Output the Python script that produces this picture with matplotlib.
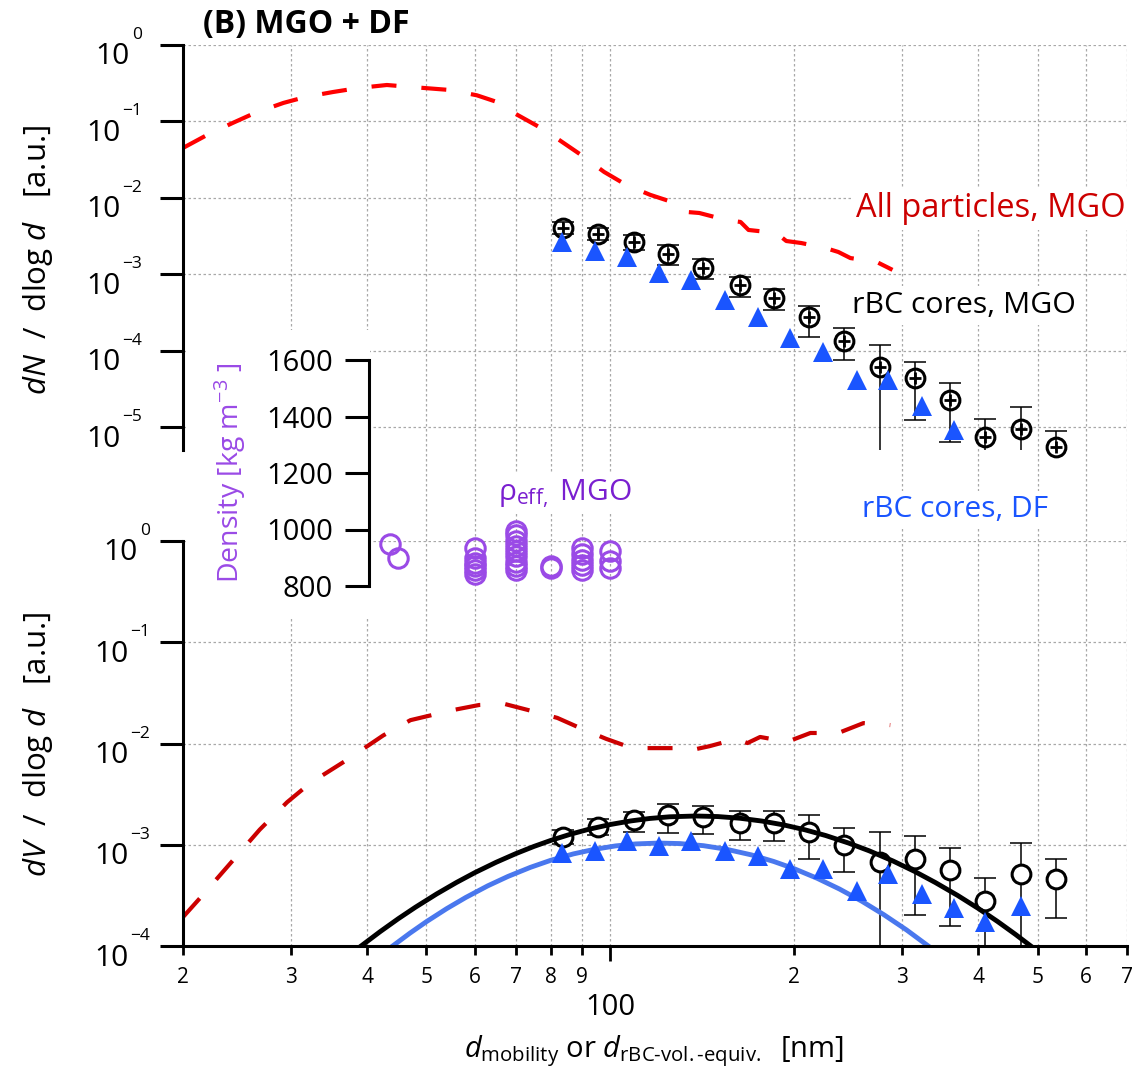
import numpy as np
import matplotlib
matplotlib.use("Agg")
import matplotlib.pyplot as plt
from matplotlib.patches import Rectangle
from matplotlib.transforms import blended_transform_factory, offset_copy

plt.rcParams['font.family'] = ['Open Sans', 'DejaVu Sans']
plt.rcParams['mathtext.fontset'] = 'custom'
plt.rcParams['mathtext.rm'] = 'Open Sans'
plt.rcParams['mathtext.it'] = 'Open Sans:italic'
plt.rcParams['mathtext.bf'] = 'Open Sans:bold'

# ---------------- data ----------------
# all particles, MGO (number and volume size distributions)
d_all_N = [20, 21.9, 24.1, 26.2, 29.2, 31.7, 35.2, 38.7, 43.1, 47.4, 54.7, 60.5,
           66.0, 69.6, 76.5, 82.5, 89.6, 97.7, 106.2, 116.2, 127.6, 133.6, 139.8,
           154.8, 163.3, 168.3, 186.8, 194, 205.2, 224.8, 236, 247, 272.6, 289.4]
dN_all = [0.0451, 0.0667, 0.0955, 0.129, 0.175, 0.209, 0.243, 0.274, 0.300, 0.282,
          0.258, 0.220, 0.1746, 0.129, 0.0847, 0.0573, 0.0365, 0.0219, 0.0148, 0.011,
          8.6e-3, 6.56e-3, 6.37e-3, 5.15e-3, 4.86e-3, 3.82e-3, 3.49e-3, 2.74e-3,
          2.58e-3, 2.22e-3, 1.97e-3, 1.64e-3, 1.46e-3, 1.15e-3]

d_all_V = [20, 21.3, 23.6, 26.7, 29.6, 32.3, 37.1, 42.5, 47.1, 55.3, 61.0, 67.3,
           74.5, 81.9, 90, 98.5, 108.6, 119.4, 132.1, 135.6, 145.2, 160.8, 167.6,
           175.8, 194.8, 212.4, 236, 259.4, 287]
dV_all = [1.93e-4, 2.95e-4, 6.0e-4, 1.41e-3, 2.63e-3, 4.07e-3, 6.9e-3, 0.012, 0.017,
          0.0214, 0.024, 0.0245, 0.0209, 0.0179, 0.0139, 0.0111, 9.0e-3, 9.0e-3,
          9.0e-3, 8.6e-3, 9.4e-3, 0.0111, 0.0101, 0.0116, 0.0104, 0.0127, 0.0127,
          0.0159, 0.0152]

# rBC cores, MGO
d_mgo = [83.8, 95.4, 109.5, 124.2, 142, 162.8, 185, 211.5, 240.8, 275.8, 314.5,
         359, 409.5, 469.5, 535]
dN_mgo = [4.06e-3, 3.38e-3, 2.66e-3, 1.85e-3, 1.22e-3, 7.30e-4, 4.93e-4, 2.78e-4,
          1.35e-4, 6.18e-5, 4.44e-5, 2.29e-5, 7.52e-6, 9.55e-6, 5.56e-6]
dN_mgo_lo = [3.38e-3, 2.82e-3, 2.09e-3, 1.33e-3, 8.73e-4, 5.08e-4, 3.44e-4, 1.52e-4,
             7.62e-5, 0, 1.25e-5, 6.46e-6, 0, 0, 0]
dN_mgo_hi = [4.85e-3, 4.06e-3, 3.28e-3, 2.43e-3, 1.60e-3, 9.27e-4, 6.46e-4, 3.87e-4,
             2.00e-4, 1.20e-4, 7.18e-5, 3.82e-5, 1.29e-5, 1.85e-5, 8.99e-6]
dV_mgo = [1.19e-3, 1.50e-3, 1.75e-3, 1.97e-3, 1.88e-3, 1.64e-3, 1.64e-3, 1.34e-3,
          9.94e-4, 6.76e-4, 7.23e-4, 5.63e-4, 2.78e-4, 5.14e-4, 4.59e-4]
dV_mgo_lo = [1.02e-3, 1.25e-3, 1.34e-3, 1.31e-3, 1.28e-3, 1.11e-3, 1.09e-3, 7.23e-4,
             5.38e-4, 0, 2.02e-4, 1.58e-4, 0, 0, 1.89e-4]
dV_mgo_hi = [1.40e-3, 1.80e-3, 2.10e-3, 2.52e-3, 2.41e-3, 2.16e-3, 2.16e-3, 1.97e-3,
             1.46e-3, 1.34e-3, 1.22e-3, 9.29e-4, 4.70e-4, 1.04e-3, 7.23e-4]

# rBC cores, DF
d_df = [83.5, 94.5, 106.5, 120, 135.5, 154, 174.5, 197, 222.5, 253, 285, 323, 365,
        410, 470]
dN_df = [2.66e-3, 2.03e-3, 1.70e-3, 1.05e-3, 8.5e-4, 4.65e-4, 2.79e-4, 1.48e-4,
         9.8e-5, 4.2e-5, 4.2e-5, 1.9e-5, 9.3e-6]
dV_df = [8.3e-4, 8.7e-4, 1.09e-3, 9.7e-4, 1.09e-3, 8.7e-4, 7.7e-4, 5.75e-4, 5.75e-4,
         3.5e-4, 5.1e-4, 3.27e-4, 2.37e-4, 1.73e-4, 2.48e-4]

# lognormal fits to the rBC volume distributions
d_fit_mgo = [39, 42, 45, 48, 52, 56, 60, 65, 70, 75, 80, 86, 92, 100, 108, 116, 125,
             138, 150, 163, 177, 192, 208, 225, 245, 265, 290, 315, 340, 370, 400,
             430, 460, 490]
dV_fit_mgo = [9.87e-5, 1.383e-4, 1.861e-4, 2.416e-4, 3.27e-4, 4.236e-4, 5.294e-4,
              6.699e-4, 8.157e-4, 9.627e-4, 1.106e-3, 1.269e-3, 1.417e-3, 1.585e-3,
              1.719e-3, 1.818e-3, 1.888e-3, 1.923e-3, 1.898e-3, 1.827e-3, 1.714e-3,
              1.571e-3, 1.406e-3, 1.234e-3, 1.042e-3, 8.72e-4, 6.91e-4, 5.43e-4,
              4.24e-4, 3.155e-4, 2.345e-4, 1.745e-4, 1.301e-4, 9.74e-5]
d_fit_df = [44, 47, 50, 54, 58, 63, 68, 74, 80, 87, 94, 102, 110, 120, 130, 142, 155,
            170, 185, 200, 218, 237, 258, 280, 305, 332]
dV_fit_df = [9.95e-5, 1.338e-4, 1.736e-4, 2.34e-4, 3.013e-4, 3.924e-4, 4.862e-4,
             5.98e-4, 7.04e-4, 8.12e-4, 8.99e-4, 9.74e-4, 1.019e-3, 1.039e-3,
             1.027e-3, 9.79e-4, 9.01e-4, 7.95e-4, 6.84e-4, 5.79e-4, 4.66e-4,
             3.655e-4, 2.763e-4, 2.042e-4, 1.444e-4, 9.89e-5]

# effective density, MGO
d_rho = [43.6, 45,
         60, 60, 60, 60, 60, 60,
         70, 70, 70, 70, 70, 70, 70, 70, 70,
         80, 80,
         90, 90, 90, 90, 90,
         100, 100, 100]
rho_eff = [950, 900,
           933, 900, 883, 871, 857, 843,
           996, 980, 960, 940, 925, 905, 885, 870, 858,
           870, 862,
           936, 915, 893, 875, 857,
           925, 890, 865]

minor_pos = [20, 30, 40, 50, 60, 70, 80, 90, 200, 300, 400, 500, 600, 700]
minor_lab = ['2', '3', '4', '5', '6', '7', '8', '9', '2', '3', '4', '5', '6', '7']

# ---------------- layout ----------------
W, H = 1137, 1071
fig = plt.figure(figsize=(W / 100, H / 100), dpi=100)


def rect(x0, y0, x1, y1):
    return [x0 / W, 1 - y1 / H, (x1 - x0) / W, (y1 - y0) / H]


def fpos(x, y):
    return x / W, 1 - y / H


XL, XR = 183, 1127
ax_grid = fig.add_axes(rect(XL, 45, XR, 946))
ax_bot = fig.add_axes(rect(XL, 541, XR, 946))
ax_top = fig.add_axes(rect(XL, 45, XR, 450))
ax_rho = fig.add_axes(rect(XL, 360, XR, 586))

for ax in (ax_grid, ax_bot, ax_top, ax_rho):
    ax.set_xscale('log')
    ax.set_xlim(20, 700)
    ax.patch.set_visible(False)
    for s in ax.spines.values():
        s.set_visible(False)
    ax.tick_params(which='both', bottom=False, left=False,
                   labelbottom=False, labelleft=False)

gridkw = dict(color='#a8a8a8', lw=0.9, ls=(0, (2, 2)))
ax_grid.set_ylim(0, 1)
for xg in minor_pos[1:] + [100]:
    ax_grid.axvline(xg, zorder=0, **gridkw)

# log panels
ax_top.set_yscale('log')
ax_top.set_ylim(5.08e-6, 1)
ax_bot.set_yscale('log')
ax_bot.set_ylim(1e-4, 1)
top_dec = [0, -1, -2, -3, -4, -5]
bot_dec = [0, -1, -2, -3, -4]

for ax, decs, exp_x in ((ax_top, top_dec, 142), (ax_bot, bot_dec, 150)):
    ax.spines['left'].set_visible(True)
    ax.spines['left'].set_linewidth(2.2)
    ax.set_yticks([10.0 ** k for k in decs])
    ax.yaxis.set_minor_locator(matplotlib.ticker.NullLocator())
    ax.tick_params(axis='y', which='major', left=True, length=16.5, width=2.2,
                   direction='out')
    ax.set_axisbelow(True)
    ax.grid(axis='y', which='major', **gridkw)
    tr = blended_transform_factory(fig.transFigure, ax.transData)
    for k in decs:
        lab = str(k).replace('-', '\u2212')
        e = ax.text(exp_x / W, 10.0 ** k, lab, fontsize=12.5, ha='right',
                    va='center', transform=offset_copy(tr, fig, y=10, units='dots'),
                    clip_on=False)
        ax.annotate('10', xy=(0, 0.5), xycoords=e, xytext=(-2, -22),
                    textcoords='offset pixels', ha='right', va='center',
                    fontsize=21.5, annotation_clip=False)

ax_bot.spines['bottom'].set_visible(True)
ax_bot.spines['bottom'].set_linewidth(2.2)
ax_bot.set_xticks([100], ['100'])
ax_bot.set_xticks(minor_pos, minor_lab, minor=True)
ax_bot.tick_params(axis='x', which='major', bottom=True, labelbottom=True,
                   length=11, width=2, labelsize=21, pad=23)
ax_bot.tick_params(axis='x', which='minor', bottom=True, labelbottom=True,
                   length=6.5, width=2, labelsize=15, pad=8.5)

# white area behind the density axis
ax_top.add_artist(Rectangle(fpos(188, 618), 182 / W, 288 / H,
                            transform=fig.transFigure, fc='white', ec='none',
                            zorder=0.9, clip_on=False))

# ---- top: number distributions ----
ax_top.plot(d_all_N, dN_all, color='#ff0000', lw=3, dashes=(6, 6), zorder=2)
dN_mgo_a = np.array(dN_mgo)
ax_top.errorbar(d_mgo, dN_mgo, yerr=[dN_mgo_a - np.array(dN_mgo_lo),
                                     np.array(dN_mgo_hi) - dN_mgo_a],
                fmt='none', ecolor='black', elinewidth=1.1, capsize=8,
                capthick=1.1, zorder=2.1)
ax_top.plot(d_mgo, dN_mgo, 'o', ms=13.5, mfc='none', mec='black', mew=2.2,
            zorder=2.3, clip_on=False)
ax_top.plot(d_mgo, dN_mgo, '+', ms=9, mec='black', mew=2, zorder=2.3,
            clip_on=False)
ax_top.plot(d_df[:len(dN_df)], dN_df, '^', ms=14.5, color='#1a55ff', mew=0,
            zorder=2.4, clip_on=False)

# ---- bottom: volume distributions ----
ax_bot.plot(d_all_V, dV_all, color='#cc0000', lw=3, dashes=(6, 6), zorder=2)
dV_mgo_a = np.array(dV_mgo)
ax_bot.errorbar(d_mgo, dV_mgo, yerr=[dV_mgo_a - np.array(dV_mgo_lo),
                                     np.array(dV_mgo_hi) - dV_mgo_a],
                fmt='none', ecolor='black', elinewidth=1.1, capsize=8,
                capthick=1.1, zorder=2.0)
ax_bot.plot(d_mgo, dV_mgo, 'o', ms=13.5, mfc='white', mec='none', zorder=2.1,
            clip_on=False)
ax_bot.plot(d_fit_mgo, dV_fit_mgo, color='black', lw=3.5, zorder=2.2)
ax_bot.plot(d_fit_df, dV_fit_df, color='#4a78ee', lw=3.5, zorder=2.2)
ax_bot.plot(d_mgo, dV_mgo, 'o', ms=13.5, mfc='none', mec='black', mew=2.2,
            zorder=2.3, clip_on=False)
ax_bot.plot(d_df, dV_df, '^', ms=14.5, color='#1a55ff', mew=0, zorder=2.4,
            clip_on=False)

# ---- inset: effective density ----
ax_rho.set_ylim(800, 1600)
ax_rho.spines['left'].set_visible(True)
ax_rho.spines['left'].set_linewidth(2.2)
ax_rho.spines['left'].set_position(('data', 40.3))
ax_rho.set_yticks([800, 1000, 1200, 1400, 1600])
ax_rho.tick_params(axis='y', left=True, labelleft=True, length=17, width=2.2,
                   labelsize=21, pad=9)
ax_rho.plot(d_rho, rho_eff, 'o', ms=14, mfc='none', mec='#9a4ae6', mew=2.2,
            clip_on=False, zorder=3)

# ---- text ----
box = dict(boxstyle='square,pad=0.15', fc='white', ec='none')
fig.text(*fpos(203, 33), '(B) MGO + DF', fontsize=23, fontweight='bold',
         va='baseline')
fig.text(*fpos(856, 217), 'All particles, MGO', fontsize=23.5, color='#cc0000',
         va='baseline', bbox=box)
fig.text(*fpos(852, 313), 'rBC cores, MGO', fontsize=21.8, color='black',
         va='baseline', bbox=box)
fig.text(*fpos(862, 517), 'rBC cores, DF', fontsize=21.5, color='#1a55ff',
         va='baseline', bbox=box)
fig.text(*fpos(498, 500), r'$\mathrm{ρ}_{\mathrm{eff},}$ MGO', fontsize=21.5,
         color='#7a1fd0', va='baseline', bbox=box)
fig.text(*fpos(230, 473), r'Density [kg m$^{-3}$ ]', fontsize=20.5,
         color='#9a4ae6', rotation=90, ha='center', va='center')
fig.text(*fpos(38, 260), r'$dN$  /  dlog $d$   [a.u.]', fontsize=22.5,
         rotation=90, ha='center', va='center')
fig.text(*fpos(38, 744), r'$dV$  /  dlog $d$   [a.u.]', fontsize=22.5,
         rotation=90, ha='center', va='center')
fig.text(*fpos(654, 1057),
         r'$d_{\mathrm{mobility}}$ or $d_{\mathrm{rBC\text{-}vol.\text{-}equiv.}}$  [nm]',
         fontsize=21, ha='center', va='baseline')

fig.savefig('out.png', dpi=100)
